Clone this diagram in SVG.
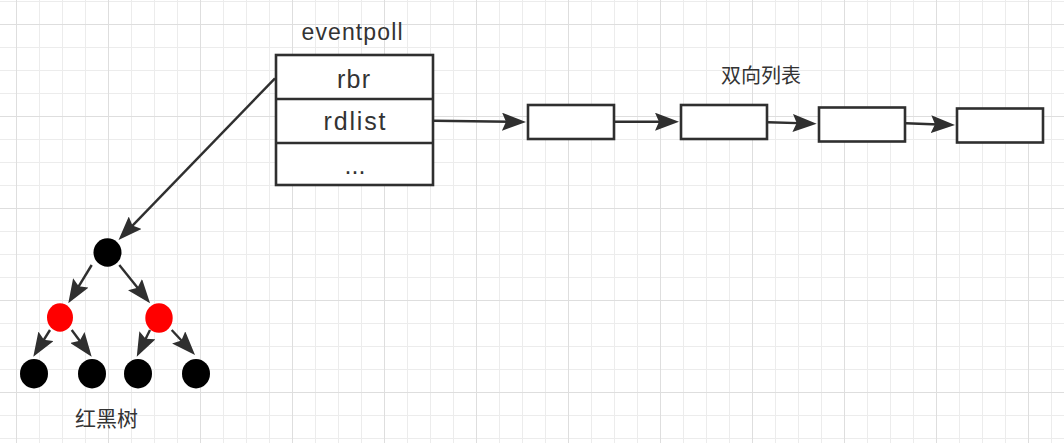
<svg xmlns="http://www.w3.org/2000/svg" width="1064" height="443" viewBox="0 0 1064 443">
<defs>
<pattern id="grid" x="16" y="24" width="92" height="92" patternUnits="userSpaceOnUse">
<path d="M23.5,0V92M46.5,0V92M69.5,0V92M0,23.5H92M0,46.5H92M0,69.5H92" stroke="#ececec" stroke-width="1" fill="none"/>
<path d="M0.5,0V92M0,0.5H92" stroke="#dedede" stroke-width="1" fill="none"/>
</pattern>
<marker id="arr" markerUnits="userSpaceOnUse" viewBox="0 0 24 18" markerWidth="24" markerHeight="18" refX="14" refY="9" orient="auto">
<path d="M0,0 L24,9 L0,18 L4,9 Z" fill="#2f2f2f"/>
</marker>
<style>
.box{fill:#fff;stroke:#2f2f2f;stroke-width:2.6}
.div{stroke:#2f2f2f;stroke-width:2.6}
.conn{stroke:#2f2f2f;stroke-width:2.4;fill:none;marker-end:url(#arr)}
.t{font-family:"Liberation Sans",Arial,sans-serif;fill:#333;text-anchor:middle}
.cjk{font-family:"Noto Sans CJK SC","Noto Sans",sans-serif;fill:#333;text-anchor:middle}
.blk{fill:#000}
.red{fill:#ff0000}
</style>
</defs>
<rect width="1064" height="443" fill="#fff"/>
<rect width="1064" height="443" fill="url(#grid)"/>

<g id="eventpoll">
<text class="t" x="352" y="40" font-size="23" textLength="101" lengthAdjust="spacing">eventpoll</text>
<rect class="box" x="276" y="55" width="157" height="130"/>
<line class="div" x1="276" y1="99" x2="433" y2="99"/>
<line class="div" x1="276" y1="143" x2="433" y2="143"/>
<text class="t" x="353.5" y="87.5" font-size="25" textLength="33" lengthAdjust="spacing">rbr</text>
<text class="t" x="354.5" y="130" font-size="25" textLength="62" lengthAdjust="spacing">rdlist</text>
<text class="t" x="355" y="174" font-size="25">...</text>
</g>

<g id="list1"><rect class="box" x="528" y="105" width="86" height="34"/></g>
<g id="list2"><rect class="box" x="681" y="105" width="86" height="34"/></g>
<g id="list3"><rect class="box" x="819" y="107.5" width="86" height="34"/></g>
<g id="list4"><rect class="box" x="957" y="108.5" width="86" height="34"/></g>
<g id="list-label"><text class="cjk" x="761" y="82.5" font-size="20">双向列表</text></g>

<g id="tree-root"><ellipse class="blk" cx="107.5" cy="252.5" rx="14" ry="14.2"/></g>
<g id="tree-red-left"><ellipse class="red" cx="60" cy="317.5" rx="13" ry="14.2"/></g>
<g id="tree-red-right"><ellipse class="red" cx="159" cy="318" rx="13.7" ry="14.7"/></g>
<g id="tree-leaf1"><ellipse class="blk" cx="34" cy="373.7" rx="14" ry="14.7"/></g>
<g id="tree-leaf2"><ellipse class="blk" cx="92" cy="373.7" rx="14" ry="14.7"/></g>
<g id="tree-leaf3"><ellipse class="blk" cx="138" cy="373.7" rx="14" ry="14.7"/></g>
<g id="tree-leaf4"><ellipse class="blk" cx="196" cy="373.7" rx="14" ry="14.7"/></g>
<g id="tree-label"><text class="cjk" x="106.5" y="425.5" font-size="21">红黑树</text></g>

<g id="connectors">
<line class="conn" x1="434" y1="120.7" x2="516" y2="121.9"/>
<line class="conn" x1="615" y1="121.7" x2="669" y2="121.7"/>
<line class="conn" x1="768" y1="122.2" x2="806.7" y2="123.4"/>
<line class="conn" x1="906" y1="123.3" x2="945" y2="124.7"/>
<line class="conn" x1="275" y1="78.3" x2="125.5" y2="232.8"/>
<line class="conn" x1="91.7" y1="265" x2="73.5" y2="294.8"/>
<line class="conn" x1="119.3" y1="265" x2="143.8" y2="295.5"/>
<line class="conn" x1="50" y1="330" x2="38.6" y2="348.2"/>
<line class="conn" x1="71.7" y1="330" x2="85.7" y2="348.7"/>
<line class="conn" x1="150" y1="330" x2="141.2" y2="347.7"/>
<line class="conn" x1="171.7" y1="330" x2="188.2" y2="347.7"/>
</g>
</svg>
